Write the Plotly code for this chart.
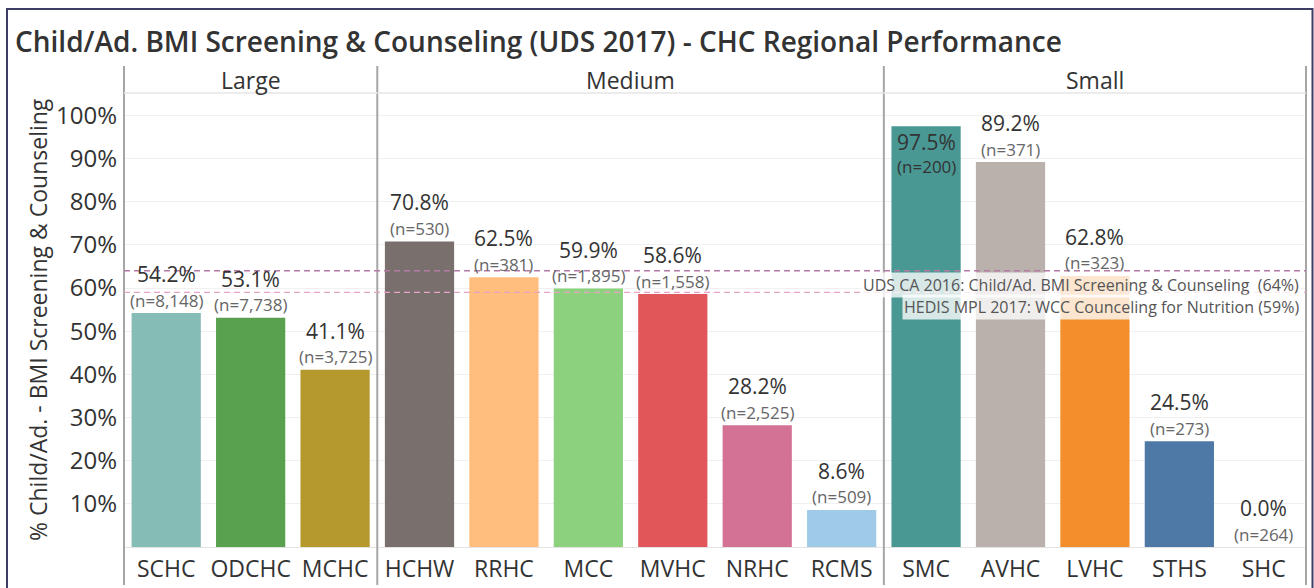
import plotly.graph_objects as go

# ---- data ----
groups = ["Large", "Medium", "Small"]
group_sizes = [3, 6, 5]
categories = ["SCHC", "ODCHC", "MCHC",
              "HCHW", "RRHC", "MCC", "MVHC", "NRHC", "RCMS",
              "SMC", "AVHC", "LVHC", "STHS", "SHC"]
values = [54.2, 53.1, 41.1,
          70.8, 62.5, 59.9, 58.6, 28.2, 8.6,
          97.5, 89.2, 62.8, 24.5, 0.0]
counts = ["8,148", "7,738", "3,725",
          "530", "381", "1,895", "1,558", "2,525", "509",
          "200", "371", "323", "273", "264"]
colors = ["#86bcb6", "#59a14f", "#b6992d",
          "#79706e", "#ffbe7d", "#8cd17d", "#e15759", "#d37295", "#a0cbe8",
          "#499894", "#bab0ac", "#f28e2b", "#4e79a7", "#bab0ac"]
ref_values = [64, 59]
ref_labels = ["UDS CA 2016: Child/Ad. BMI Screening & Counseling  (64%)",
              "HEDIS MPL 2017: WCC Counceling for Nutrition (59%)"]
ytick_vals = [10, 20, 30, 40, 50, 60, 70, 80, 90, 100]
ytick_text = [f"{v}%" for v in ytick_vals]

FONT = "Open Sans"
W, H = 1314, 588
ML, MR, MT, MB = 124, 8, 93, 41
YMAX = 105.2
PW = W - ML - MR
PH = H - MT - MB
N = len(categories)


def px_x(p):
    return (p - ML) / PW


def px_y(p):
    return (H - MB - p) / PH


fig = go.Figure()
fig.add_trace(go.Bar(
    x=categories, y=values, marker=dict(color=colors, line=dict(width=0)),
    width=0.82, hoverinfo="skip", showlegend=False))

annotations = []
for c, v, n in zip(categories, values, counts):
    inside = v > YMAX - 9
    annotations.append(dict(x=c, y=v, xref="x", yref="y", text=f"{v:.1f}%",
                            showarrow=False, xanchor="center", yanchor="middle",
                            yshift=-16 if inside else 39,
                            font=dict(family=FONT, size=21, color="#333333")))
    annotations.append(dict(x=c, y=v, xref="x", yref="y", text=f"(n={n})",
                            showarrow=False, xanchor="center", yanchor="middle",
                            yshift=-40 if inside else 13,
                            font=dict(family=FONT, size=17,
                                      color="#333333" if inside else "#666666")))

# reference line labels
for rv, lab, ysh in zip(ref_values, ref_labels, [-14, -15]):
    annotations.append(dict(x=1, y=rv, xref="paper", yref="y", text=lab,
                            showarrow=False, xanchor="right", yanchor="middle",
                            xshift=-5, yshift=ysh,
                            bgcolor="rgba(255,255,255,0.78)",
                            font=dict(family=FONT, size=16, color="#555555")))

# group headers and separators
shapes = []
start = 0
bounds = [0]
for g, s in zip(groups, group_sizes):
    center = (start + s / 2) / N
    annotations.append(dict(x=center, y=px_y(80), xref="paper", yref="paper",
                            text=g, showarrow=False,
                            xanchor="center", yanchor="middle",
                            font=dict(family=FONT, size=23, color="#333333")))
    start += s
    bounds.append(start)
for b in bounds:
    shapes.append(dict(type="line", xref="paper", yref="paper",
                       x0=b / N, x1=b / N, y0=px_y(585), y1=px_y(66),
                       line=dict(color="#a6a6a6", width=2)))

# header bottom line
shapes.append(dict(type="line", xref="paper", yref="paper", x0=0, x1=1,
                   y0=1, y1=1, line=dict(color="#e6e6e6", width=1.5)))

# reference lines
shapes.append(dict(type="line", xref="paper", yref="y", x0=0, x1=1,
                   y0=ref_values[0], y1=ref_values[0],
                   line=dict(color="#b57aa6", width=1.6, dash="6px,4px")))
shapes.append(dict(type="line", xref="paper", yref="y", x0=0, x1=1,
                   y0=ref_values[1], y1=ref_values[1],
                   line=dict(color="#e8a2c6", width=1.2, dash="6px,4px")))

# outer frame
shapes.append(dict(type="rect", xref="paper", yref="paper",
                   x0=px_x(7), x1=px_x(1312.5), y0=px_y(595), y1=px_y(9),
                   line=dict(color="#3d3d66", width=2), fillcolor="rgba(0,0,0,0)"))

# y axis title
annotations.append(dict(x=px_x(38), y=0.5, xref="paper", yref="paper",
                        text="% Child/Ad. - BMI Screening & Counseling",
                        textangle=-90, showarrow=False,
                        xanchor="center", yanchor="middle",
                        font=dict(family=FONT, size=23, color="#333333")))

fig.update_layout(
    width=W, height=H,
    margin=dict(l=ML, r=MR, t=MT, b=MB, pad=0, autoexpand=False),
    paper_bgcolor="white", plot_bgcolor="white",
    bargap=0.18,
    title=dict(text="Child/Ad. BMI Screening & Counseling (UDS 2017) - CHC Regional Performance",
               xref="container", yref="container", x=15 / W, y=1 - 42 / H,
               xanchor="left", yanchor="middle",
               font=dict(family=FONT, size=28, color="#333333", weight=600)),
    annotations=annotations,
    shapes=shapes,
    xaxis=dict(range=[-0.5, N - 0.5], showgrid=False, zeroline=False,
               showline=True, linecolor="#e3e3e3", linewidth=1,
               ticks="", ticklabelstandoff=1, automargin=False,
               tickfont=dict(family=FONT, size=23, color="#333333"),
               fixedrange=True),
    yaxis=dict(range=[0, YMAX], tickvals=ytick_vals, ticktext=ytick_text,
               showgrid=True, gridcolor="#f0f0f0", gridwidth=1,
               zeroline=False, showline=False, ticks="",
               ticklabelstandoff=6, automargin=False,
               tickfont=dict(family=FONT, size=24, color="#333333"),
               fixedrange=True),
    showlegend=False,
)

fig.write_html("out.html", config={"displayModeBar": False},
               post_script="document.body.style.margin='0';document.body.style.overflow='hidden';")
